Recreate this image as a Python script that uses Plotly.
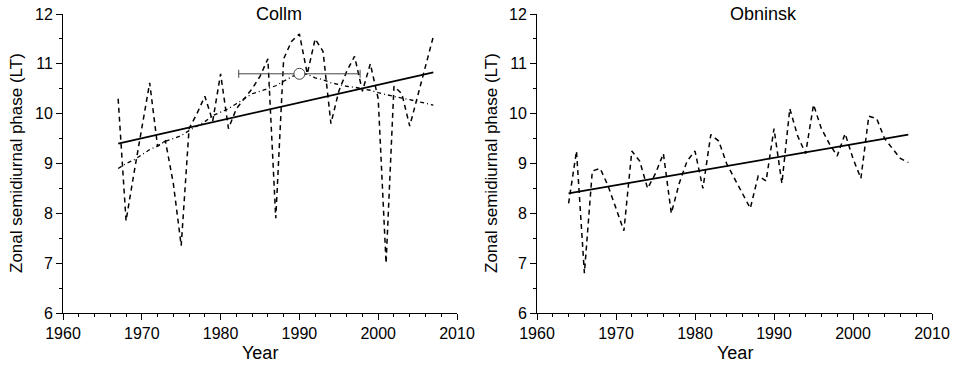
import plotly.graph_objects as go

# ---------------- data ----------------
collm_years = list(range(1967, 2008))
collm_phase = [10.3, 7.85, 8.8, 9.7, 10.62, 9.35, 9.45, 8.6, 7.35, 9.7,
               10.0, 10.35, 9.85, 10.8, 9.7, 10.1, 10.3, 10.5, 10.75, 11.1,
               7.9, 11.1, 11.45, 11.6, 10.8, 11.5, 11.25, 9.8, 10.45, 10.85,
               11.15, 10.45, 11.0, 10.3, 7.0, 10.55, 10.4, 9.75, 10.35, 10.95,
               11.55]
collm_smooth = [8.9, 9.0, 9.07, 9.18, 9.28, 9.35, 9.45, 9.5, 9.56, 9.66,
                9.75, 9.84, 9.96, 10.03, 10.1, 10.2, 10.3, 10.4, 10.45, 10.5,
                10.56, 10.65, 10.74, 10.8, 10.79, 10.72, 10.68, 10.62, 10.58, 10.55,
                10.53, 10.5, 10.47, 10.42, 10.38, 10.35, 10.31, 10.28, 10.25, 10.21,
                10.17]
collm_trend_years = [1967, 2007]
collm_trend = [9.4, 10.83]
collm_center_year = [1990]
collm_center_value = [10.8]
collm_center_err = [7.7]

obn_years = list(range(1964, 2008))
obn_phase = [8.2, 9.25, 6.8, 8.85, 8.9, 8.55, 8.1, 7.65, 9.25, 9.05,
             8.5, 8.8, 9.2, 8.0, 8.6, 9.05, 9.25, 8.5, 9.58, 9.45,
             9.0, 8.7, 8.4, 8.1, 8.75, 8.65, 9.7, 8.6, 10.1, 9.55,
             9.2, 10.18, 9.7, 9.4, 9.15, 9.6, 9.1, 8.7, 9.95, 9.9,
             9.5, 9.3, 9.1, 9.02]
obn_trend_years = [1964, 2007]
obn_trend = [8.4, 9.58]

titles = ["Collm", "Obninsk"]
x_title = "Year"
y_title = "Zonal semidiurnal phase (LT)"

# ---------------- figure ----------------
W, H = 953, 372
FONT = "Liberation Sans, Arial, sans-serif"
fig = go.Figure()

dash_data = "5px,4px"
dash_smooth = "4px,3px,1px,3px"

fig.add_trace(go.Scatter(x=collm_years, y=collm_phase, mode="lines",
                         line=dict(color="black", width=1.5, dash=dash_data),
                         xaxis="x", yaxis="y", showlegend=False))
fig.add_trace(go.Scatter(x=collm_years, y=collm_smooth, mode="lines",
                         line=dict(color="black", width=1.3, dash=dash_smooth),
                         xaxis="x", yaxis="y", showlegend=False))
fig.add_trace(go.Scatter(x=collm_trend_years, y=collm_trend, mode="lines",
                         line=dict(color="black", width=1.8),
                         xaxis="x", yaxis="y", showlegend=False))
fig.add_trace(go.Scatter(x=collm_center_year, y=collm_center_value, mode="markers",
                         marker=dict(symbol="circle", size=11, color="white",
                                     line=dict(color="#444", width=1)),
                         error_x=dict(type="data", array=collm_center_err, symmetric=True,
                                      color="#444", thickness=1, width=4),
                         xaxis="x", yaxis="y", showlegend=False))

fig.add_trace(go.Scatter(x=obn_years, y=obn_phase, mode="lines",
                         line=dict(color="black", width=1.5, dash=dash_data),
                         xaxis="x2", yaxis="y2", showlegend=False))
fig.add_trace(go.Scatter(x=obn_trend_years, y=obn_trend, mode="lines",
                         line=dict(color="black", width=1.8),
                         xaxis="x2", yaxis="y2", showlegend=False))

x_dom = [[63 / W, 457 / W], [537 / W, 932 / W]]
y_dom = [1 - 313 / H, 1 - 14 / H]

def xaxis(dom, anchor):
    return dict(domain=dom, anchor=anchor, range=[1960, 2010], dtick=10, tick0=1960,
                automargin=False,
                showline=True, linecolor="black", linewidth=1, mirror=False,
                ticks="outside", ticklen=6, tickwidth=1, tickcolor="black",
                minor=dict(dtick=2, tick0=1960, ticks="outside", ticklen=3,
                           tickwidth=1, tickcolor="black", showgrid=False),
                showgrid=False, zeroline=False,
                tickfont=dict(family=FONT, size=16, color="black"))

def yaxis(anchor):
    return dict(domain=y_dom, anchor=anchor, range=[6, 12], dtick=1, tick0=6,
                automargin=False,
                showline=True, linecolor="black", linewidth=1, mirror=False,
                ticks="outside", ticklen=6, tickwidth=1, tickcolor="black",
                minor=dict(dtick=0.5, tick0=6, ticks="outside", ticklen=3,
                           tickwidth=1, tickcolor="black", showgrid=False),
                showgrid=False, zeroline=False,
                tickfont=dict(family=FONT, size=16, color="black"))

annotations = []
for cx, tx in [(279, titles[0]), (763, titles[1])]:
    annotations.append(dict(text=tx, x=cx / W, y=1 - 14 / H, xref="paper", yref="paper",
                            showarrow=False, xanchor="center", yanchor="middle",
                            font=dict(family=FONT, size=18, color="black")))
for cx in [260, 734.5]:
    annotations.append(dict(text=x_title, x=cx / W, y=1 - 353 / H, xref="paper", yref="paper",
                            showarrow=False, xanchor="center", yanchor="middle",
                            font=dict(family=FONT, size=18, color="black")))
for cx in [16, 491]:
    annotations.append(dict(text=y_title, x=cx / W, y=1 - 163 / H, xref="paper", yref="paper",
                            showarrow=False, xanchor="center", yanchor="middle", textangle=-90,
                            font=dict(family=FONT, size=17, color="black")))

fig.update_layout(
    width=W, height=H, margin=dict(l=0, r=0, t=0, b=0),
    paper_bgcolor="white", plot_bgcolor="white",
    xaxis=xaxis(x_dom[0], "y"), yaxis=yaxis("x"),
    xaxis2=xaxis(x_dom[1], "y2"), yaxis2=yaxis("x2"),
    annotations=annotations, showlegend=False,
)

fig.write_html("out.html")
